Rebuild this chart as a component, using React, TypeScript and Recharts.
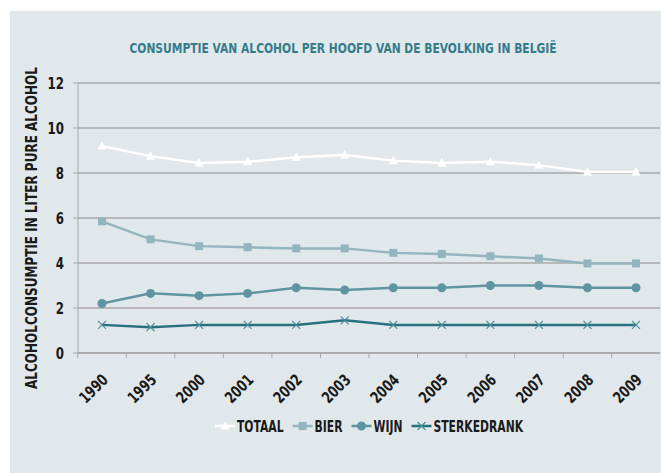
import React from 'react';
import { LineChart, Line, XAxis, YAxis, CartesianGrid, Legend } from 'recharts';

const years = ['1990', '1995', '2000', '2001', '2002', '2003', '2004', '2005', '2006', '2007', '2008', '2009'];
const totaal = [9.2, 8.75, 8.45, 8.5, 8.7, 8.8, 8.55, 8.45, 8.5, 8.35, 8.05, 8.05];
const bier = [5.85, 5.05, 4.75, 4.7, 4.65, 4.65, 4.45, 4.4, 4.3, 4.2, 3.98, 3.98];
const wijn = [2.2, 2.65, 2.55, 2.65, 2.9, 2.8, 2.9, 2.9, 3.0, 3.0, 2.9, 2.9];
const sterkedrank = [1.25, 1.15, 1.25, 1.25, 1.25, 1.45, 1.25, 1.25, 1.25, 1.25, 1.25, 1.25];
const yTicks = [0, 2, 4, 6, 8, 10, 12];

const data = years.map((year, i) => ({
  year,
  totaal: totaal[i],
  bier: bier[i],
  wijn: wijn[i],
  sterkedrank: sterkedrank[i],
}));

const FONT = "'DejaVu Sans Condensed', 'Liberation Sans', sans-serif";
const C_TOTAAL = '#ffffff';
const C_BIER = '#93b5bd';
const C_WIJN = '#5f95a1';
const C_STERK = '#27707f';
const GRID = '#a9a9a9';
const INK = '#1a1a1a';

// condensed look: measure with the installed font, then squeeze via textLength
const ctx = typeof document !== 'undefined' ? document.createElement('canvas').getContext('2d') : null;
const textW = (s: string, size: number) => {
  if (!ctx) return s.length * size * 0.55;
  ctx.font = `bold ${size}px ${FONT}`;
  return ctx.measureText(s).width;
};

const Squeezed = ({ x, y, size, squeeze, anchor = 'start', fill = INK, transform, children }: any) => (
  <text
    x={x}
    y={y}
    fontFamily={FONT}
    fontWeight="bold"
    fontSize={size}
    fill={fill}
    textAnchor={anchor}
    transform={transform}
    textLength={textW(children, size) * squeeze}
    lengthAdjust="spacingAndGlyphs"
  >
    {children}
  </text>
);

const marker = (kind: string, cx: number, cy: number, color: string) => {
  if (kind === 'triangle') {
    return <polygon points={`${cx},${cy - 5} ${cx + 4.5},${cy + 3.5} ${cx - 4.5},${cy + 3.5}`} fill={color} />;
  }
  if (kind === 'square') {
    return <rect x={cx - 4} y={cy - 4} width={8} height={8} fill={color} />;
  }
  if (kind === 'circle') {
    return <circle cx={cx} cy={cy} r={4.5} fill={color} />;
  }
  return (
    <g stroke="#4f8f9c" strokeWidth={1.3}>
      <line x1={cx - 4} y1={cy - 4} x2={cx + 4} y2={cy + 4} />
      <line x1={cx - 4} y1={cy + 4} x2={cx + 4} y2={cy - 4} />
    </g>
  );
};

const makeDot = (kind: string, color: string) => (props: any) => (
  <g key={`${kind}-${props.index}`}>{marker(kind, props.cx, props.cy, color)}</g>
);

const legendItems = [
  { label: 'TOTAAL', color: C_TOTAAL, kind: 'triangle' },
  { label: 'BIER', color: C_BIER, kind: 'square' },
  { label: 'WIJN', color: C_WIJN, kind: 'circle' },
  { label: 'STERKEDRANK', color: C_STERK, kind: 'cross' },
];

const LegendContent = () => {
  let cx = 215;
  const parts = legendItems.map((it) => {
    const w = textW(it.label, 15) * 0.8;
    const x0 = cx;
    cx += 20 + 2 + w + 9;
    return (
      <g key={it.label}>
        <line x1={x0} y1={10} x2={x0 + 20} y2={10} stroke={it.color} strokeWidth={2.5} />
        {marker(it.kind, x0 + 10, 10, it.color)}
        <Squeezed x={x0 + 22} y={15.5} size={15} squeeze={0.8}>
          {it.label}
        </Squeezed>
      </g>
    );
  });
  return (
    <svg width={661} height={20} style={{ display: 'block' }}>
      {parts}
    </svg>
  );
};

const YearTick = (props: any) => {
  const { x, y, payload } = props;
  const tx = x + 7;
  const ty = y + 19;
  return (
    <g>
      <line x1={x - 24.25} y1={y - 9} x2={x - 24.25} y2={y - 4} stroke={GRID} strokeWidth={1} />
      <Squeezed x={tx} y={ty} size={16} squeeze={0.82} anchor="end" transform={`rotate(-45, ${tx}, ${ty})`}>
        {payload.value}
      </Squeezed>
    </g>
  );
};

const ValueTick = (props: any) => {
  const { x, y, payload } = props;
  return (
    <Squeezed x={x} y={y + 6} size={16} squeeze={0.82} anchor="end">
      {String(payload.value)}
    </Squeezed>
  );
};

const YTitle = (props: any) => {
  const { viewBox } = props;
  const x = viewBox.x + 37;
  const y = viewBox.y + viewBox.height / 2 + 10;
  return (
    <Squeezed x={0} y={0} size={15} squeeze={0.89} anchor="middle" transform={`translate(${x}, ${y}) rotate(-90)`}>
      ALCOHOLCONSUMPTIE IN LITER PURE ALCOHOL
    </Squeezed>
  );
};

export default function App() {
  return (
    <div style={{ position: 'absolute', left: 0, top: 0, width: 661, height: 473, background: '#ffffff' }}>
      <div style={{ position: 'absolute', left: 10, top: 11, right: 0, bottom: 0, background: '#e0e8eb' }} />
      <svg width={661} height={60} style={{ position: 'absolute', left: 0, top: 0 }}>
        <Squeezed x={343} y={53} size={14} squeeze={0.85} anchor="middle" fill="#357c8a">
          CONSUMPTIE VAN ALCOHOL PER HOOFD VAN DE BEVOLKING IN BELGIË
        </Squeezed>
      </svg>
      <div style={{ position: 'absolute', left: 0, top: 0 }}>
        <LineChart width={661} height={473} data={data} margin={{ top: 83, right: 1, left: 0, bottom: 37 }}>
          <CartesianGrid vertical={false} stroke={GRID} strokeWidth={1.3} />
          <XAxis
            dataKey="year"
            height={63}
            padding={{ left: 24, right: 24 }}
            axisLine={{ stroke: GRID, strokeWidth: 1.3 }}
            tickLine={false}
            tickSize={5}
            tickMargin={4}
            interval={0}
            tick={<YearTick />}
          />
          <YAxis
            width={78}
            domain={[0, 12]}
            ticks={yTicks}
            interval={0}
            axisLine={{ stroke: GRID, strokeWidth: 1 }}
            tickLine={{ stroke: GRID }}
            tickSize={5}
            tickMargin={9}
            tick={<ValueTick />}
            label={<YTitle />}
          />
          <Legend verticalAlign="bottom" content={<LegendContent />} wrapperStyle={{ height: 20 }} />
          <Line
            dataKey="totaal"
            stroke={C_TOTAAL}
            strokeWidth={2.5}
            dot={makeDot('triangle', C_TOTAAL)}
            isAnimationActive={false}
          />
          <Line dataKey="bier" stroke={C_BIER} strokeWidth={2.5} dot={makeDot('square', C_BIER)} isAnimationActive={false} />
          <Line dataKey="wijn" stroke={C_WIJN} strokeWidth={2.5} dot={makeDot('circle', C_WIJN)} isAnimationActive={false} />
          <Line
            dataKey="sterkedrank"
            stroke={C_STERK}
            strokeWidth={2.5}
            dot={makeDot('cross', C_STERK)}
            isAnimationActive={false}
          />
        </LineChart>
      </div>
    </div>
  );
}
